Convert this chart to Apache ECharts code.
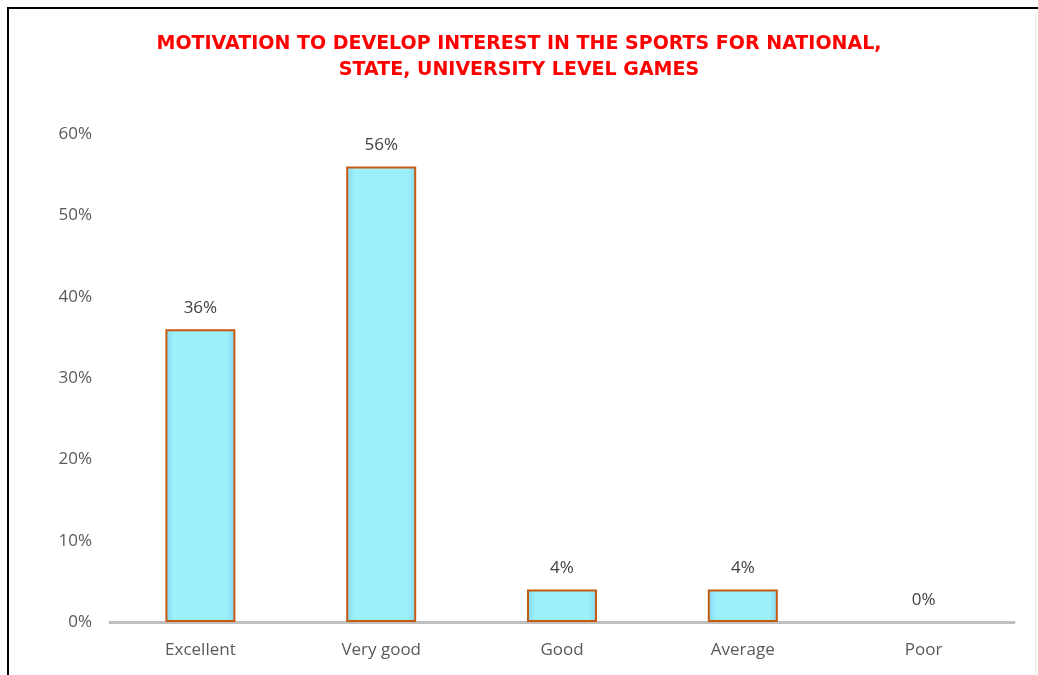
<!DOCTYPE html>
<html>
<head>
<meta charset="utf-8">
<script src="https://cdn.jsdelivr.net/npm/echarts@6/dist/echarts.min.js"></script>
<style>
   html, body { margin: 0; padding: 0; background: #ffffff; }
   #chart { width: 1038px; height: 675px; }
</style>
</head>
<body>
<div id="chart"></div>
<script>

// chart data
const titleText = 'MOTIVATION TO DEVELOP INTEREST IN THE SPORTS FOR NATIONAL,\nSTATE, UNIVERSITY LEVEL GAMES';
const categories = ['Excellent', 'Very good', 'Good', 'Average', 'Poor'];
const percentValues = [36, 56, 4, 4, 0];


const chart = echarts.init(document.getElementById('chart'));

// bars with zero height get no outline
const barData = percentValues.map(v =>
{
   return { value: v, itemStyle: v === 0 ? { borderWidth: 0 } : {} };
});

const option =
{
   animation: false,
   backgroundColor: '#ffffff',
   title:
   {
      text: titleText,
      left: 'center',
      top: 26,
      textStyle:
      {
         fontFamily: 'DejaVu Sans',
         fontWeight: 'bold',
         fontSize: 19,
         color: '#ff0000',
         lineHeight: 26
      }
   },
   grid: { left: 110, right: 24, top: 134, bottom: 53 },
   xAxis:
   {
      type: 'category',
      data: categories,
      axisLine: { lineStyle: { color: '#bfbfbf', width: 3 } },
      axisTick: { show: false },
      axisLabel: { color: '#595959', fontSize: 17, fontFamily: 'Open Sans', margin: 20 }
   },
   yAxis:
   {
      type: 'value',
      min: 0,
      max: 60,
      interval: 10,
      splitLine: { show: false },
      axisLine: { show: false },
      axisTick: { show: false },
      axisLabel: { color: '#595959', fontSize: 17, fontFamily: 'Open Sans', margin: 18, formatter: '{value}%' }
   },
   series:
   [
      {
         type: 'bar',
         data: barData,
         barWidth: 70,
         itemStyle:
         {
            color: new echarts.graphic.LinearGradient(0, 0, 1, 0,
            [
               { offset: 0, color: '#84d6ef' },
               { offset: 0.12, color: '#9cf0fa' },
               { offset: 0.88, color: '#9cf0fa' },
               { offset: 1, color: '#84d6ef' }
            ]),
            borderColor: '#c55a11',
            borderWidth: 2
         },
         label:
         {
            show: true,
            position: 'top',
            distance: 13,
            color: '#404040',
            fontSize: 17,
            fontFamily: 'Open Sans',
            formatter: p => p.value + '%'
         }
      }
   ],
   graphic:
   [
      {
         type: 'rect',
         shape: { x: 8, y: 8, width: 1100, height: 720 },
         style: { fill: null, stroke: '#000000', lineWidth: 2 },
         silent: true
      },
      {
         type: 'line',
         shape: { x1: 1036, y1: 12, x2: 1036, y2: 675 },
         style: { stroke: '#e6e6e6', lineWidth: 1 },
         silent: true
      }
   ]
};

chart.setOption(option);

</script>
</body>
</html>
